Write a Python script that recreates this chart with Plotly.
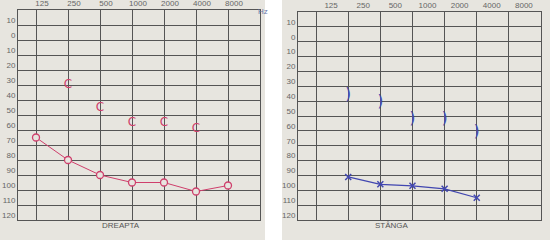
import math
import plotly.graph_objects as go

# audiogram data (dB HL per frequency)
freqs = [125, 250, 500, 1000, 2000, 4000, 8000]
freq_labels = ['125', '250', '500', '1000', '2000', '4000', '8000']
db_ticks = [-10, 0, 10, 20, 30, 40, 50, 60, 70, 80, 90, 100, 110, 120]
db_labels = ['10', '0', '10', '20', '30', '40', '50', '60', '70', '80', '90', '100', '110', '120']

right_air_f = [125, 250, 500, 1000, 2000, 4000, 8000]
right_air_db = [65, 80, 90, 95, 95, 101, 97]
right_bone_f = [250, 500, 1000, 2000, 4000]
right_bone_db = [30, 45, 55, 55, 59]

left_air_f = [250, 500, 1000, 2000, 4000]
left_air_db = [91, 96, 97, 99, 105]
left_bone_f = [250, 500, 1000, 2000, 4000]
left_bone_db = [36, 41, 52, 52, 61]

W, H = 550, 240
PAPER = '#e7e5df'
GRID = '#555555'
RED = '#cf3f6c'
BLUE = '#4146b0'
FONT = 'Liberation Sans'

fig = go.Figure()

# right ear (left panel)
fig.add_trace(go.Scatter(x=right_air_f, y=right_air_db, mode='lines+markers',
                         line=dict(color=RED, width=1),
                         marker=dict(symbol='circle', size=7, color=PAPER,
                                     line=dict(color=RED, width=1.3)),
                         xaxis='x', yaxis='y', showlegend=False))
fig.add_trace(go.Scatter(x=right_bone_f, y=right_bone_db, mode='text', text=['C'] * len(right_bone_f),
                         textfont=dict(color=RED, size=12, family='DejaVu Sans'),
                         xaxis='x', yaxis='y', showlegend=False))

# left ear (right panel)
fig.add_trace(go.Scatter(x=left_air_f, y=left_air_db, mode='lines+markers',
                         line=dict(color=BLUE, width=1.2),
                         marker=dict(symbol='x-thin', size=6, line=dict(color=BLUE, width=1.5)),
                         xaxis='x2', yaxis='y2', showlegend=False))
fig.add_trace(go.Scatter(x=left_bone_f, y=left_bone_db, mode='text', text=[')'] * len(left_bone_f),
                         textfont=dict(color=BLUE, size=15, family='DejaVu Sans'),
                         xaxis='x2', yaxis='y2', showlegend=False))

lg = math.log10(2)
xrange = [math.log10(125) - 0.5625 * lg, math.log10(8000) + 1.0 * lg]

def xaxis(dom, shift):
    return dict(type='log', range=xrange, domain=dom, side='top', automargin=False,
                tickvals=freqs, ticktext=freq_labels, ticklabelshift=shift,
                tickfont=dict(size=8, color='#666', family=FONT),
                showgrid=True, gridcolor=GRID, gridwidth=1, zeroline=False,
                showline=True, mirror=True, linecolor=GRID, linewidth=1, ticks='')

def yaxis(dom, anchor):
    return dict(range=[120, -20], domain=dom, anchor=anchor, automargin=False,
                tickvals=db_ticks, ticktext=db_labels, ticklabelshift=5,
                tickfont=dict(size=8, color='#666', family=FONT),
                showgrid=True, gridcolor=GRID, gridwidth=1, zeroline=False,
                showline=True, mirror=True, linecolor=GRID, linewidth=1, ticks='')

fig.update_layout(
    width=W, height=H,
    margin=dict(l=0, r=0, t=0, b=0),
    paper_bgcolor='white', plot_bgcolor=PAPER,
    xaxis=xaxis([18 / W, 260 / W], 6),
    yaxis=yaxis([1 - 220 / H, 1 - 10 / H], 'x'),
    xaxis2=dict(xaxis([298 / W, 541 / W], 15), anchor='y2'),
    yaxis2=yaxis([1 - 220 / H, 1 - 12 / H], 'x2'),
    shapes=[
        dict(type='rect', xref='paper', yref='paper', x0=0, x1=265 / W, y0=0, y1=1,
             fillcolor=PAPER, line=dict(width=0), layer='below'),
        dict(type='rect', xref='paper', yref='paper', x0=282 / W, x1=1, y0=0, y1=1,
             fillcolor=PAPER, line=dict(width=0), layer='below'),
    ],
    annotations=[
        dict(text='Hz', xref='paper', yref='paper', x=263 / W, y=1 - 5 / H, showarrow=False,
             font=dict(size=8, color='#6a78a8', family=FONT)),
        dict(text='DREAPTA', xref='paper', yref='paper', x=100 / W, y=1 - 232 / H, showarrow=False,
             font=dict(size=8, color='#555', family=FONT)),
        dict(text='STÂNGA', xref='paper', yref='paper', x=411 / W, y=1 - 232 / H, showarrow=False,
             font=dict(size=8, color='#555', family=FONT)),
    ],
)

# the page body has a default 8px margin; drop it so the chart sits at the window origin
fig.write_html('out.html', config={'displayModeBar': False},
               post_script="document.body.style.margin='0';")
